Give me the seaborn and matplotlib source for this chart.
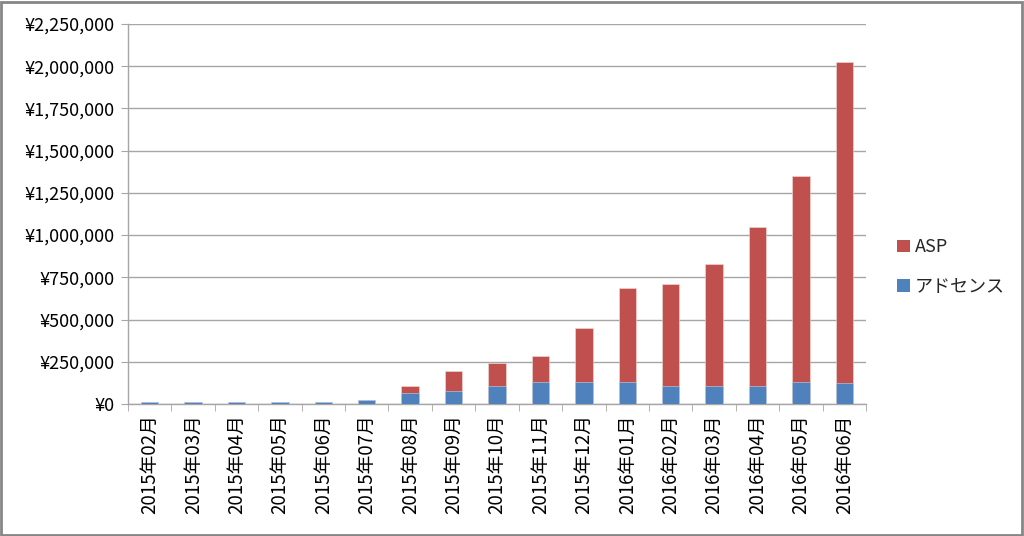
import matplotlib
matplotlib.use("Agg")
import matplotlib.pyplot as plt
import seaborn as sns
import numpy as np
import pandas as pd
from matplotlib.patches import Rectangle, Patch
from matplotlib.ticker import FuncFormatter, FixedLocator

months = ["2015年02月", "2015年03月", "2015年04月", "2015年05月", "2015年06月",
          "2015年07月", "2015年08月", "2015年09月", "2015年10月", "2015年11月",
          "2015年12月", "2016年01月", "2016年02月", "2016年03月", "2016年04月",
          "2016年05月", "2016年06月"]
adsense = [10000, 10000, 10000, 10000, 10000, 25000, 63000, 77000, 108000, 132000,
           132000, 132000, 108000, 108000, 108000, 132000, 126000]
asp = [0, 0, 0, 0, 0, 0, 42000, 118000, 137000, 152000,
       320000, 553000, 601000, 722000, 939000, 1220000, 1898000]
yticks = [0, 250000, 500000, 750000, 1000000, 1250000, 1500000, 1750000, 2000000, 2250000]
series_names = ["ASP", "アドセンス"]

sns.set_style("white")
plt.rcParams["font.family"] = ["Noto Sans CJK JP", "DejaVu Sans"]

RED = "#C0504D"
BLUE = "#4F81BD"
GRID = "#A6A6A6"

df = pd.DataFrame({"month": months, "adsense": adsense, "asp": asp})
df["total"] = df["adsense"] + df["asp"]

fig = plt.figure(figsize=(10.24, 5.36), dpi=100)
ax = fig.add_axes([128/1024, 1-404/536, (866-128)/1024, (404-24)/536])

sns.barplot(data=df, x="month", y="total", color=RED, width=0.4, ax=ax,
            saturation=1, edgecolor="#F2DCDB", linewidth=0.4, zorder=3)
sns.barplot(data=df, x="month", y="adsense", color=BLUE, width=0.4, ax=ax,
            saturation=1, edgecolor="#C5D5EA", linewidth=0.4, zorder=3)

ax.set_ylim(0, 2250000)
ax.set_xlim(-0.5, len(months) - 0.5)
ax.set_yticks(yticks)
ax.yaxis.set_major_formatter(FuncFormatter(lambda v, p: "¥{:,.0f}".format(v)))
ax.grid(axis="y", color=GRID, linewidth=1, zorder=0)
ax.set_axisbelow(True)
ax.set_xlabel("")
ax.set_ylabel("")

for s in ["top", "right"]:
    ax.spines[s].set_visible(False)
for s in ["left", "bottom"]:
    ax.spines[s].set_color(GRID)
    ax.spines[s].set_linewidth(1)

ax.tick_params(axis="y", which="major", left=True, length=5, color=GRID,
               labelsize=13, labelcolor="#000000", pad=5)
ax.tick_params(axis="x", which="major", bottom=False, labelsize=13.5,
               labelcolor="#000000", rotation=90, pad=4)
ax.xaxis.set_minor_locator(FixedLocator(np.arange(-0.5, len(months), 1.0)))
ax.tick_params(axis="x", which="minor", bottom=True, length=5, color=GRID)

handles = [Patch(facecolor=RED, edgecolor="none"), Patch(facecolor=BLUE, edgecolor="none")]
ax.legend(handles, series_names, loc="center left", bbox_to_anchor=(1.02, 0.36),
          frameon=False, fontsize=13, handlelength=0.7, handleheight=0.7,
          handletextpad=0.3, labelspacing=1.2)

fig.patches.append(Rectangle((0.001, 0.002), 0.997, 0.995, transform=fig.transFigure,
                             fill=False, edgecolor="#868686", linewidth=2))

fig.savefig("out.png", dpi=100)
